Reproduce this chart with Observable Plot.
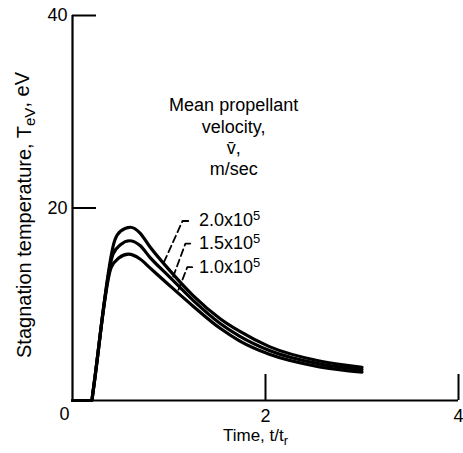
<!DOCTYPE html>
<html><head><meta charset="utf-8">
<script src="https://cdn.jsdelivr.net/npm/d3@7"></script>
<script src="https://cdn.jsdelivr.net/npm/@observablehq/plot@0.6"></script>
<style>
html,body{margin:0;padding:0;background:#fff;}
</style></head><body><div id="chart"></div>
<script>
// ---- axes ----
const xDomain = [0, 4];
const yDomain = [0, 40];
const xTicks = [2, 4];
const yTicks = [20, 40];
const xLabel = "Time, t/tr";
const yLabel = "Stagnation temperature, TeV, eV";

// ---- series: mean propellant velocity (x10^5 m/sec) ----
const velocityLabels = ["2.0x10", "1.5x10", "1.0x10"];
const velocityExponent = "5";

const time20 = [0, 0.2, 0.21, 0.44, 0.5, 0.6, 0.7, 0.8, 1.0, 1.25, 1.53, 1.73, 2.04, 2.56, 3.0];
const temp20 = [0, 0, 0.7, 16.7, 17.6, 18.0, 17.4, 16.0, 13.6, 10.9, 8.5, 7.2, 5.6, 4.1, 3.45];

const time15 = [0, 0.2, 0.21, 0.42, 0.5, 0.59, 0.7, 0.8, 1.0, 1.25, 1.53, 1.73, 2.04, 2.56, 3.0];
const temp15 = [0, 0, 0.7, 15.2, 16.2, 16.6, 16.1, 14.9, 12.9, 10.4, 8.0, 6.7, 5.2, 3.8, 3.2];

const time10 = [0, 0.2, 0.21, 0.40, 0.48, 0.58, 0.7, 0.8, 1.0, 1.25, 1.53, 1.73, 2.04, 2.56, 3.0];
const temp10 = [0, 0, 0.7, 13.8, 14.8, 15.2, 14.7, 13.8, 12.0, 9.8, 7.5, 6.2, 4.8, 3.5, 2.95];

// ---- annotations (data units) ----
const legendTitle = "Mean propellant\nvelocity,\nv\u0304,\nm/sec";
const legendTitleX = 1.67;
const legendTitleY = 27.45;
const labelX = [1.31, 1.31, 1.31];
const labelY = [18.75, 16.35, 13.85];
const leaderX = [[1.20, 1.14, 0.94], [1.22, 1.17, 1.03], [1.24, 1.19, 1.09]];
const leaderY = [[18.65, 18.65, 14.2], [16.3, 16.3, 12.5], [13.85, 13.85, 11.3]];

// ---- build tables ----
const seriesTimes = [time20, time15, time10];
const seriesTemps = [temp20, temp15, temp10];
const curves = velocityLabels.flatMap((s, i) =>
  seriesTimes[i].map((t, j) => ({series: s, t, T: seriesTemps[i][j]})));
const labels = velocityLabels.map((s, i) => ({series: s, x: labelX[i], y: labelY[i]}));
const leaders = velocityLabels.flatMap((s, i) =>
  leaderX[i].map((x, j) => ({series: s, x, y: leaderY[i][j]})));

const font = "'Liberation Sans', Arial, sans-serif";

const chart = Plot.plot({
  width: 463,
  height: 453,
  marginLeft: 72,
  marginRight: 5,
  marginTop: 15,
  marginBottom: 53,
  x: {domain: xDomain},
  y: {domain: yDomain},
  style: {fontFamily: font, fontSize: "17px", color: "black", background: "white"},
  marks: [
    Plot.ruleX([0], {strokeWidth: 2.2}),
    Plot.ruleY([0], {strokeWidth: 2.2}),
    Plot.axisY({ticks: yTicks, tickSize: -24, strokeWidth: 2, fill: "none", label: null}),
    Plot.axisY({ticks: yTicks, tickSize: 0, tickPadding: 5, tickFormat: "d", fontSize: 18, label: null}),
    Plot.axisX({ticks: xTicks, tickSize: -26, strokeWidth: 2, fill: "none", label: null}),
    Plot.axisX({ticks: xTicks, tickSize: 0, tickPadding: 9, tickFormat: "d", fontSize: 18, label: null}),
    Plot.text(["0"], {x: 0, y: 0, text: d => d, dx: -8, dy: 14, fontSize: 18}),
    Plot.line(curves, {x: "t", y: "T", z: "series", stroke: "black", strokeWidth: 3.2, curve: "monotone-x"}),
    Plot.line(leaders, {x: "x", y: "y", z: "series", stroke: "black", strokeWidth: 1.8, strokeDasharray: "7,4"}),
    Plot.text(labels, {x: "x", y: "y", text: "series", textAnchor: "start", fontSize: 18}),
    Plot.text([legendTitle], {x: legendTitleX, y: legendTitleY, text: d => d, lineHeight: 1.17, fontSize: 18}),
    Plot.text([xLabel], {frameAnchor: "bottom", textAnchor: "middle", lineAnchor: "middle", dy: 35, dx: -10, fontSize: 17}),
    Plot.text([yLabel], {frameAnchor: "left", textAnchor: "middle", lineAnchor: "middle", rotate: -90, dx: -48, dy: 7, fontSize: 20})
  ]
});

document.getElementById("chart").append(chart);

// ---- rich text: superscripts / subscripts ----
const svg = d3.select(chart);
svg.selectAll("text").each(function () {
  const el = d3.select(this);
  const txt = this.textContent;
  if (velocityLabels.includes(txt)) {
    el.append("tspan").attr("dy", "-0.45em").attr("font-size", "13px").text(velocityExponent);
  } else if (txt === xLabel) {
    el.text("Time, t/t");
    el.append("tspan").attr("dy", "0.3em").attr("font-size", "13px").text("r");
  } else if (txt === yLabel) {
    el.text("Stagnation temperature, T");
    el.append("tspan").attr("dy", "0.3em").attr("font-size", "15px").text("eV");
    el.append("tspan").attr("dy", "-0.3em").text(", eV");
  }
});
</script>
</body></html>
